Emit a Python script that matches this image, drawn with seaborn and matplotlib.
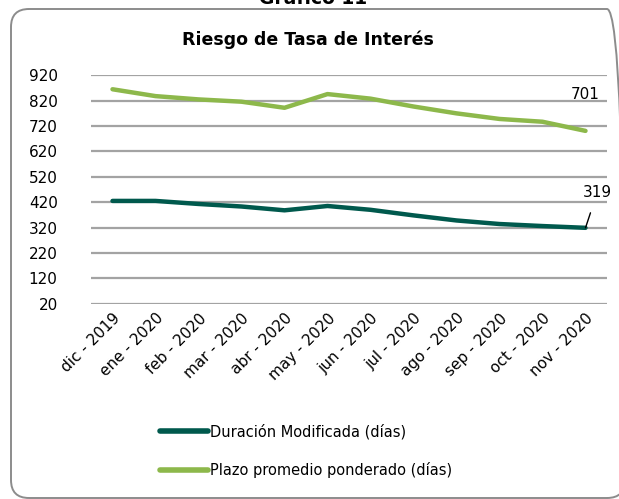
import matplotlib
matplotlib.use("Agg")
import matplotlib.pyplot as plt
import seaborn as sns
import pandas as pd
from matplotlib.patches import FancyBboxPatch

months = ["dic - 2019", "ene - 2020", "feb - 2020", "mar - 2020", "abr - 2020",
          "may - 2020", "jun - 2020", "jul - 2020", "ago - 2020", "sep - 2020",
          "oct - 2020", "nov - 2020"]
duracion = [425, 425, 413, 403, 388, 405, 390, 368, 348, 334, 326, 319]
plazo = [865, 838, 825, 816, 792, 846, 828, 797, 770, 748, 737, 701]
series_names = ["Duración Modificada (días)", "Plazo promedio ponderado (días)"]
yticks = [20, 120, 220, 320, 420, 520, 620, 720, 820, 920]

df = pd.DataFrame({
    "mes": months * 2,
    "valor": duracion + plazo,
    "serie": [series_names[0]] * len(months) + [series_names[1]] * len(months),
})

sns.set_theme(style="white")
plt.rcParams["font.family"] = ["DejaVu Sans"]
plt.rcParams["text.color"] = "black"
plt.rcParams["xtick.color"] = "black"
plt.rcParams["ytick.color"] = "black"

W, H = 619, 499
fig = plt.figure(figsize=(W / 100, H / 100), dpi=100)

# background axes in pixel coordinates (y up) for the rounded frame
bg = fig.add_axes([0, 0, 1, 1])
bg.set_xlim(0, W)
bg.set_ylim(0, H)
bg.axis("off")
frame = FancyBboxPatch((11, H - 9 - 489), 614, 489, boxstyle="round,pad=0,rounding_size=18",
                       facecolor="none", edgecolor="#8c8c8c", linewidth=1.4)
bg.add_patch(frame)

fig.text(0.505, 1.003, "Gráfico 11", ha="center", va="center", fontsize=13.5,
         fontweight="bold", color="black")
fig.text(0.497, 1 - 40 / H, "Riesgo de Tasa de Interés", ha="center", va="center",
         fontsize=12.5, fontweight="bold", color="black")

ax = fig.add_axes([91 / W, 1 - 303.7 / H, 516 / W, 228.4 / H])
palette = {series_names[0]: "#00594d", series_names[1]: "#8db84b"}
sns.lineplot(data=df, x="mes", y="valor", hue="serie", palette=palette,
             linewidth=3.2, sort=False, ax=ax, legend=True)

ax.set_ylim(20, 920)
ax.set_xlim(-0.5, len(months) - 0.5)
ax.set_yticks(yticks)
ax.set_yticklabels([str(v) for v in yticks], fontsize=11)
ax.set_xticks(range(len(months)))
ax.set_xticklabels(months, rotation=45, ha="right", rotation_mode="anchor", fontsize=11)
ax.tick_params(axis="x", length=0, pad=5)
ax.tick_params(axis="y", length=0, pad=24)
ax.grid(axis="y", color="#a3a3a3", linewidth=1.6)
ax.set_axisbelow(True)
for s in ax.spines.values():
    s.set_visible(False)
ax.set_xlabel("")
ax.set_ylabel("")

ax.text(len(months) - 1, plazo[-1] + 145, str(plazo[-1]), ha="center", va="center", fontsize=11)
ax.annotate(str(duracion[-1]), xy=(len(months) - 1, duracion[-1]),
            xytext=(len(months) - 0.73, duracion[-1] + 138), ha="center", va="center",
            fontsize=11,
            arrowprops=dict(arrowstyle="-", color="black", linewidth=1,
                            shrinkA=7, shrinkB=0))

handles, labels = ax.get_legend_handles_labels()
ax.get_legend().remove()
for h in handles:
    h.set_linewidth(4)
fig.legend(handles, labels, loc="center left", bbox_to_anchor=(147 / W, 1 - 451 / H),
           frameon=False, fontsize=10.5, handlelength=3.3, handletextpad=0.15,
           labelspacing=1.55)

fig.savefig("out.png", dpi=100)
